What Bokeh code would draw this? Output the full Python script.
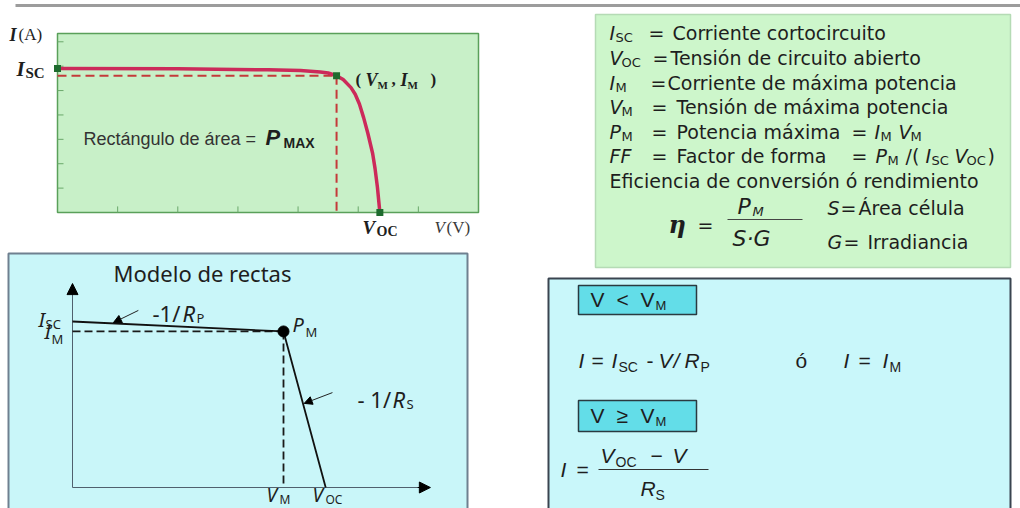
from bokeh.plotting import figure
from bokeh.models import Range1d, Arrow, NormalHead
from bokeh.core.properties import value
from bokeh.embed import file_html
from bokeh.resources import INLINE

# ---------------- data ----------------
# I-V curve of the solar cell (top-left panel)
IV_V = [0.0, 2.0, 3.5, 4.04, 4.37, 4.5, 4.64, 4.75, 4.88, 4.95, 5.02, 5.09, 5.16, 5.24, 5.28, 5.32, 5.36]
IV_I = [5.90, 5.89, 5.85, 5.82, 5.76, 5.72, 5.61, 5.45, 5.12, 4.85, 4.45, 3.89, 3.25, 2.42, 1.80, 1.02, 0.0]
ISC, IM, VM, VOC = 5.90, 5.61, 4.64, 5.36
IV_VTICKS = [1, 2, 3, 4, 5, 6]
IV_ITICKS = [1, 2, 3, 4, 5, 6, 7]
IV_VMAX, IV_IMAX = 7.0, 7.34

# straight-line model (bottom-left panel)
MDL_V = [0.0, 5.0, 6.0]          # 0, V_M, V_OC
MDL_I = [6.0, 5.64, 0.0]         # I_SC, I_M, 0
MDL_VAXIS, MDL_IAXIS = 8.48, 7.37

SERIF = "Liberation Serif"
SANS = "Liberation Sans"
DJV = "DejaVu Sans"
NOTO = "Noto Sans"
INK = "#1e1e1e"

# ---------------- figure (page-pixel frame) ----------------
FX0, FX1, FY0, FY1 = 0, 1020, 508, 0
p = figure(width=1020, height=508, output_backend="svg", toolbar_location=None,
           x_range=Range1d(FX0, FX1), y_range=Range1d(FY0, FY1),
           x_axis_location=None, y_axis_location=None, min_border=0)
p.grid.visible = False
p.outline_line_color = None
p.background_fill_color = "white"
p.border_fill_color = "white"


def lin(p0, p1, d0, d1, f0, f1):
    k = (d1 - d0) / (p1 - p0)
    return Range1d(start=d0 + (f0 - p0) * k, end=d0 + (f1 - p0) * k)


p.extra_x_ranges = {"iv": lin(57, 478, 0, IV_VMAX, FX0, FX1),
                    "mdl": lin(72, 283, 0, MDL_V[1], FX0, FX1)}
p.extra_y_ranges = {"iv": lin(212, 33, 0, IV_IMAX, FY0, FY1),
                    "mdl": lin(487, 321, 0, MDL_I[0], FY0, FY1)}
IV = dict(x_range_name="iv", y_range_name="iv")
MD = dict(x_range_name="mdl", y_range_name="mdl")


def T(x, y, s, size, font=DJV, style="normal", color=INK, align="left", **kw):
    p.text(x=[x], y=[y], text=[s], text_font=value(font), text_font_size=f"{size}px",
           text_font_style=style, text_color=color, text_align=align,
           text_baseline="middle", **kw)


# top rule
p.segment(x0=[15], y0=[5], x1=[1020], y1=[5], line_color="#9c9c9c", line_width=3)

# ---------------- panel backgrounds ----------------
p.quad(left=[595], right=[1010], top=[14], bottom=[267], fill_color="#cdf6cb",
       line_color="#b5dbb5", line_width=1.5)
p.quad(left=[8], right=[467], top=[253], bottom=[520], fill_color="#c9f6f9",
       line_color="#6f8090", line_width=2)
p.quad(left=[548], right=[1010], top=[278], bottom=[520], fill_color="#c9f7fa",
       line_color="#3a4450", line_width=2)

# ---------------- I-V plot ----------------
p.quad(left=[0], right=[IV_VMAX], bottom=[0], top=[IV_IMAX], fill_color="#c8f0c8",
       line_color="#5aa05a", line_width=1.5, **IV)
p.segment(x0=IV_VTICKS, y0=[0] * len(IV_VTICKS), x1=IV_VTICKS, y1=[0.25] * len(IV_VTICKS),
          line_color="#6aa86a", line_width=1, **IV)
p.segment(x0=[0] * len(IV_ITICKS), y0=IV_ITICKS, x1=[0.1] * len(IV_ITICKS), y1=IV_ITICKS,
          line_color="#6aa86a", line_width=1, **IV)
p.segment(x0=[0, VM], y0=[IM, IM], x1=[VM, VM], y1=[IM, 0], line_color="#c43a3a",
          line_width=2, line_dash="9 5", **IV)
p.line(IV_V, IV_I, line_color="#cc2a5a", line_width=3.5, line_join="round", **IV)
p.scatter([0, VM, VOC], [ISC, IM, 0], marker="square", size=7, fill_color="#1e6b2e",
          line_color=None, **IV)

T(9, 34, "I", 18, SERIF, "bold italic")
T(18, 34, "(A)", 17, SERIF)
T(16, 68, "I", 21, SERIF, "bold italic")
T(25, 72, "SC", 15, SERIF, "bold")
T(355, 79, "(", 17, SERIF, "bold")
T(365, 79, "V", 18, SERIF, "bold italic")
T(377, 84, "M", 11, SERIF, "bold")
T(391, 79, ",", 17, SERIF, "bold")
T(400, 79, "I", 18, SERIF, "bold italic")
T(407, 84, "M", 11, SERIF, "bold")
T(430, 79, ")", 17, SERIF, "bold")
T(362, 227, "V", 19, SERIF, "bold italic")
T(376, 231, "OC", 14, SERIF, "bold")
T(434, 227, "V", 17, SERIF, "italic", color="#3a3a3a")
T(446, 227, "(V)", 17, SERIF, color="#3a3a3a")
T(83, 138, "Rectángulo de área =", 18, SANS, color="#333333")
T(265, 137, "P", 22, SANS, "bold italic")
T(283, 142, "MAX", 14, SANS, "bold")

# ---------------- definitions box ----------------
ROWS = [32, 57, 82, 106, 131, 155, 180]
F, S = 19, 13
T(609, ROWS[0], "I", F, style="italic"); T(615, ROWS[0] + 5, "SC", S)
T(648, ROWS[0], "=", F); T(672, ROWS[0], "Corriente cortocircuito", F)
T(609, ROWS[1], "V", F, style="italic"); T(621, ROWS[1] + 5, "OC", S)
T(652, ROWS[1], "=", F); T(670, ROWS[1], "Tensión de circuito abierto", F)
T(609, ROWS[2], "I", F, style="italic"); T(615, ROWS[2] + 5, "M", S)
T(650, ROWS[2], "=", F); T(667, ROWS[2], "Corriente de máxima potencia", F)
T(609, ROWS[3], "V", F, style="italic"); T(621, ROWS[3] + 5, "M", S)
T(651, ROWS[3], "=", F); T(676, ROWS[3], "Tensión de máxima potencia", F)
T(609, ROWS[4], "P", F, style="italic"); T(621, ROWS[4] + 5, "M", S)
T(651, ROWS[4], "=", F); T(676, ROWS[4], "Potencia máxima", F)
T(851, ROWS[4], "=", F); T(874, ROWS[4], "I", F, style="italic"); T(880, ROWS[4] + 5, "M", S)
T(898, ROWS[4], "V", F, style="italic"); T(910, ROWS[4] + 5, "M", S)
T(609, ROWS[5], "FF", F, style="italic"); T(651, ROWS[5], "=", F)
T(676, ROWS[5], "Factor de forma", F); T(851, ROWS[5], "=", F)
T(875, ROWS[5], "P", F, style="italic"); T(887, ROWS[5] + 5, "M", S)
T(905, ROWS[5], "/(", F); T(925, ROWS[5], "I", F, style="italic"); T(931, ROWS[5] + 5, "SC", S)
T(954, ROWS[5], "V", F, style="italic"); T(966, ROWS[5] + 5, "OC", S)
T(987, ROWS[5], ")", F)
T(609, ROWS[6], "Eficiencia de conversión ó rendimiento", F)

T(668, 224, "η", 24, "DejaVu Serif", "bold italic")
T(697, 224, "=", F)
T(737, 206, "P", 22, style="italic"); T(752, 211, "M", 13, style="italic")
p.segment(x0=[727], y0=[219], x1=[802], y1=[219], line_color="#444444", line_width=1.2)
T(732, 238, "S·G", 22, style="italic")
T(827, 207, "S", F, style="italic"); T(840, 207, "=", F); T(858, 207, "Área célula", F)
T(827, 241, "G", F, style="italic"); T(843, 241, "=", F); T(867, 241, "Irradiancia", F)

# ---------------- straight-line model ----------------
p.segment(x0=[0, 0], y0=[0, 0], x1=[MDL_VAXIS, 0], y1=[0, MDL_IAXIS], line_color="#50606e",
          line_width=1, **MD)
p.add_layout(Arrow(end=NormalHead(size=11, fill_color="black", line_color="black"),
                   x_start=MDL_VAXIS - 0.3, y_start=0, x_end=MDL_VAXIS, y_end=0,
                   line_color="black", line_width=1, **MD))
p.add_layout(Arrow(end=NormalHead(size=11, fill_color="black", line_color="black"),
                   x_start=0, y_start=MDL_IAXIS - 0.3, x_end=0, y_end=MDL_IAXIS,
                   line_color="black", line_width=1, **MD))
p.segment(x0=[0, MDL_V[1]], y0=[MDL_I[1], MDL_I[1]], x1=[MDL_V[1], MDL_V[1]], y1=[MDL_I[1], 0],
          line_color="#1a1a1a", line_width=1.8, line_dash="8 4", **MD)
p.line(MDL_V, MDL_I, line_color="#111111", line_width=1.8, **MD)
p.scatter([MDL_V[1]], [MDL_I[1]], size=11, fill_color="black", line_color="black", **MD)
p.add_layout(Arrow(end=NormalHead(size=8, fill_color="black", line_color="black"),
                   x_start=1.56, y_start=6.40, x_end=0.97, y_end=5.96,
                   line_color="#222222", line_width=1, **MD))
p.add_layout(Arrow(end=NormalHead(size=8, fill_color="black", line_color="black"),
                   x_start=6.16, y_start=3.43, x_end=5.49, y_end=3.04,
                   line_color="#222222", line_width=1, **MD))

T(202, 272, "Modelo de rectas", 22, NOTO, align="center")
T(38, 319, "I", 20, NOTO, "italic"); T(45, 323, "SC", 13, NOTO)
T(44, 331, "I", 20, NOTO, "italic"); T(51, 338, "M", 13, NOTO)
T(152, 312, "-1/", 22, NOTO); T(182, 312, "R", 22, NOTO, "italic"); T(196, 317, "P", 13, NOTO)
T(292, 324, "P", 20, NOTO, "italic"); T(305, 331, "M", 13, NOTO)
T(357, 398, "- 1/", 22, NOTO); T(392, 398, "R", 22, NOTO, "italic"); T(406, 403, "S", 13, NOTO)
T(266, 494, "V", 19, NOTO, "italic"); T(279, 499, "M", 12, NOTO)
T(312, 494, "V", 19, NOTO, "italic"); T(325, 499, "OC", 12, NOTO)

# ---------------- piecewise formulas ----------------
p.quad(left=[578, 578], right=[696, 696], top=[285, 400], bottom=[314, 431],
       fill_color="#63dde8", line_color="#2a3a40", line_width=1.5)
T(590, 299, "V", 21, SANS); T(616, 299, "<", 21, SANS); T(640, 299, "V", 21, SANS)
T(655, 305, "M", 13, SANS)
T(590, 415, "V", 21, SANS); T(616, 415, "≥", 21, SANS); T(640, 415, "V", 21, SANS)
T(655, 421, "M", 13, SANS)

RY = 360
T(578, RY, "I", 21, SANS, "italic"); T(591, RY, "=", 21, SANS)
T(611, RY, "I", 21, SANS, "italic"); T(618, RY + 6, "SC", 14, SANS)
T(646, RY, "-", 21, SANS); T(658, RY, "V", 21, SANS, "italic"); T(673, RY, "/", 21, SANS, "italic")
T(684, RY, "R", 21, SANS, "italic"); T(700, RY + 6, "P", 14, SANS)
T(795, RY, "ó", 21, SANS)
T(843, RY, "I", 21, SANS, "italic"); T(858, RY, "=", 21, SANS)
T(882, RY, "I", 21, SANS, "italic"); T(889, RY + 6, "M", 14, SANS)

T(560, 469, "I", 21, SANS, "italic"); T(576, 469, "=", 21, SANS)
T(600, 455, "V", 21, SANS, "italic"); T(615, 461, "OC", 14, SANS)
T(650, 455, "−", 21, SANS); T(672, 455, "V", 21, SANS, "italic")
p.segment(x0=[598], y0=[469], x1=[708], y1=[469], line_color="#333333", line_width=1.2)
T(640, 488, "R", 21, SANS, "italic"); T(655, 494, "S", 14, SANS)

open("out.html", "w").write(file_html(p, INLINE))
